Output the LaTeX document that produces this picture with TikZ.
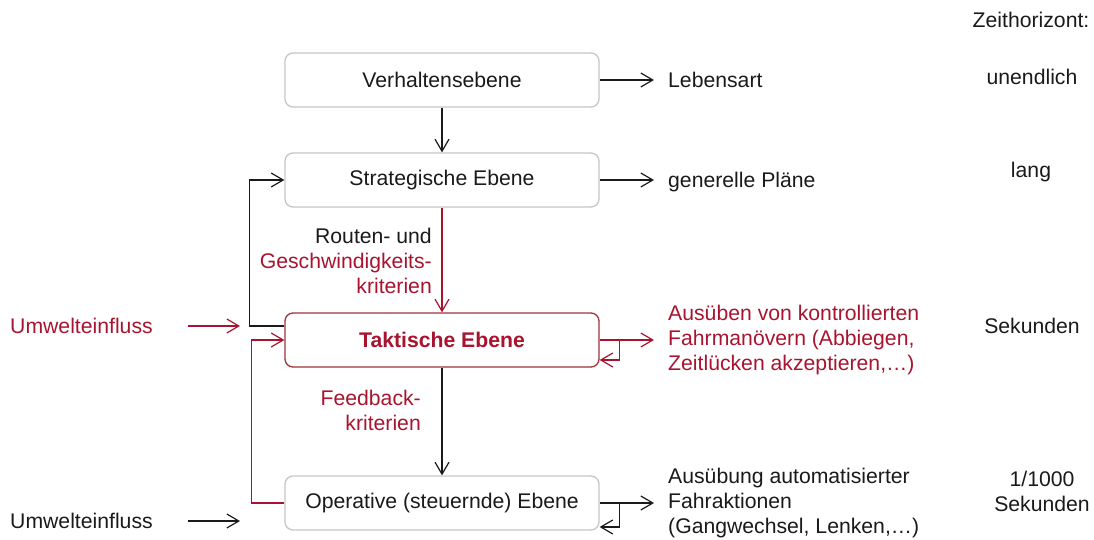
\documentclass[tikz,border=0pt]{standalone}
\usepackage{fontspec}
\setmainfont{Liberation Sans}
\usetikzlibrary{arrows.meta}
\definecolor{tured}{HTML}{A8142F}
\definecolor{tuframe}{HTML}{9C3438}
\definecolor{boxgrey}{HTML}{C6C6C6}
\definecolor{ink}{HTML}{1A1A1A}
\begin{document}
\begin{tikzpicture}[x=1pt,y=-1pt,
  every node/.style={font=\fontsize{21.2}{25}\selectfont},
  level/.style={draw=boxgrey,line width=1.3pt,rounded corners=8pt,fill=white,
    minimum width=314pt,minimum height=54pt,inner sep=0pt,text=ink},
  tactic/.style={level,draw=tuframe,text=tured,font=\fontsize{21.2}{25}\selectfont\bfseries},
  lbl/.style={inner sep=0pt,text=ink},
  rlbl/.style={lbl,text=tured},
  conn/.style={draw=ink,line width=1.2pt,-{Straight Barb[length=12pt,width=14pt,line width=1.2pt]}},
  rconn/.style={conn,draw=tured},
]
\useasboundingbox (0,0) rectangle (1094,540);

% Ebenen
\node[level]  (V) at (442,80)  {Verhaltensebene};
\node[level]  (S) at (442,180) {Strategische Ebene};
\node[tactic] (T) at (442,340) {Taktische Ebene};
\node[level]  (O) at (442,503) {Operative (steuernde) Ebene};

% Ergebnisse rechts
\node[lbl,anchor=west]  (leb) at (668,80)  {Lebensart};
\node[lbl,anchor=west]  (gen) at (668,182) {generelle Pläne};
\node[rlbl,anchor=west,align=left] (aus) at (668,340)
  {Ausüben von kontrollierten\\Fahrmanövern (Abbiegen,\\Zeitlücken akzeptieren,…)};
\node[lbl,anchor=west,align=left] (aut) at (668,503)
  {Ausübung automatisierter\\Fahraktionen\\(Gangwechsel, Lenken,…)};

% Zeithorizont
\node[lbl] (zh)  at (1031,20)  {Zeithorizont:};
\node[lbl] (zh1) at (1032,77)  {unendlich};
\node[lbl] (zh2) at (1031,172) {lang};
\node[lbl] (zh3) at (1032,326) {Sekunden};
\node[lbl,align=center] (zh4) at (1042,491) {1/1000\\Sekunden};

% Kriterien an den Pfeilen
\node[lbl,anchor=east,align=right] (rk) at (432,261)
  {Routen- und\\\textcolor{tured}{Geschwindigkeits-}\\\textcolor{tured}{kriterien}};
\node[rlbl,anchor=east,align=right] (fk) at (421,410)
  {Feedback-\\kriterien};

% Umwelteinflüsse
\node[rlbl,anchor=west] (u1) at (10,326) {Umwelteinfluss};
\node[lbl,anchor=west]  (u2) at (10,521) {Umwelteinfluss};
\coordinate (u1a) at (188,326);
\coordinate (u1b) at (240,326);
\coordinate (u2a) at (188,521);
\coordinate (u2b) at (240,521);

% Verbindungen
\draw[conn]  (V.south) -- (S.north);
\draw[rconn] (S.south) -- (T.north);
\draw[conn]  (T.south) -- (O.north);
\draw[conn]  ([yshift=14pt]T.west) -- ++(-35,0) |- (S.west);
\draw[rconn] (O.west) -- ++(-33,0) |- (T.west);
\draw[rconn] (u1a) -- (u1b);
\draw[conn]  (u2a) -- (u2b);

\draw[conn]  (V.east) -- ([xshift=-14pt]leb.west);
\draw[conn]  (S.east) -- ([xshift=-14pt]S.east -| leb.west);
\draw[rconn] (T.east) -- ([xshift=-14pt]T.east -| aus.west);
\draw[rconn] ([xshift=20pt]T.east) |- ([yshift=-20pt]T.east);
\draw[conn]  (O.east) -- ([xshift=-14pt]O.east -| aut.west);
\draw[conn]  ([xshift=20pt]O.east) |- ([yshift=-24pt]O.east);
\end{tikzpicture}
\end{document}
